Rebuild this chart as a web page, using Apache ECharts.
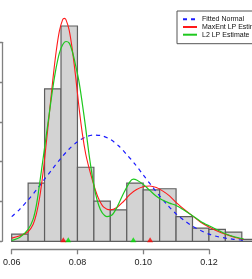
<!DOCTYPE html>
<html><head><meta charset="utf-8">
<script src="https://cdn.jsdelivr.net/npm/echarts@6/dist/echarts.min.js"></script>
<style>html,body{margin:0;padding:0;background:#fff;overflow:hidden}#c{width:252px;height:279px}</style>
</head><body><div id="c"></div>
<script>
// Histogram bins (density scale)
const binEdges = [0.060,0.065,0.070,0.075,0.080,0.085,0.090,0.095,0.100,0.105,0.110,0.115,0.120,0.125,0.130,0.135];
const density  = [1.8,14.6,38.3,54.1,18.6,10.1,7.9,14.6,12.9,13.2,6.2,3.3,3.0,2.3,0.5];

// Fitted normal
const normalX = [0.060,0.0625,0.065,0.0675,0.070,0.0725,0.075,0.0775,0.080,0.0825,0.085,0.0875,0.090,0.0925,0.095,0.0975,0.100,0.1025,0.105,0.1075,0.110,0.1125,0.115,0.1175,0.120,0.1225,0.125,0.1275,0.1305];
const normalY = [6.2,8.1,10.4,12.9,15.6,18.3,20.9,23.2,25.0,26.2,26.7,26.5,25.6,24.0,21.8,19.4,16.7,14.0,11.4,9.0,6.9,5.2,3.8,2.7,1.8,1.2,0.8,0.5,0.3];

// MaxEnt LP estimate
const maxentX = [0.060,0.0625,0.065,0.0665,0.0675,0.0685,0.0695,0.0705,0.0715,0.0725,0.0735,0.0745,0.0755,0.0760,0.0765,0.0775,0.0785,0.0795,0.0805,0.0815,0.0825,0.0835,0.0845,0.0855,0.0865,0.0880,0.0900,0.0920,0.0940,0.0960,0.0980,0.1000,0.1020,0.1040,0.1060,0.1080,0.1100,0.1125,0.1150,0.1175,0.1200,0.1225,0.1250,0.1275,0.1305];
const maxentY = [0.8,1.4,2.4,4.2,6.8,11.0,17.0,24.5,32.5,40.5,47.5,52.8,55.7,56.0,55.7,53.0,47.8,41.0,33.5,27.0,22.0,18.5,15.5,12.8,10.6,8.6,7.9,8.5,10.0,11.8,13.0,13.7,13.9,13.5,12.6,11.4,9.8,8.0,6.4,4.8,3.6,2.6,1.8,1.1,0.5];

// L2 LP estimate
const l2X = [0.060,0.0625,0.065,0.0665,0.0675,0.0685,0.0695,0.0705,0.0715,0.0725,0.0735,0.0745,0.0755,0.0765,0.0775,0.0785,0.0795,0.0805,0.0815,0.0825,0.0835,0.0845,0.0855,0.0865,0.0875,0.0890,0.0905,0.0920,0.0940,0.0960,0.0970,0.0980,0.1000,0.1020,0.1040,0.1060,0.1080,0.1100,0.1125,0.1150,0.1175,0.1200,0.1225,0.1250,0.1275,0.1305];
const l2Y = [0.2,1.0,3.0,5.5,9.0,14.5,20.5,26.5,32.5,38.5,43.5,47.3,49.4,50.2,49.8,47.5,44.0,40.0,34.5,28.5,22.0,16.5,12.0,9.0,7.2,6.2,6.6,8.5,12.0,15.0,15.6,15.4,14.3,12.8,11.3,10.3,9.6,9.0,7.8,6.4,5.0,3.9,2.9,1.9,1.2,0.6];

// Mode markers
const maxentModes = [0.0757, 0.1021];
const l2Modes = [0.0772, 0.0970];

const xTicks = [0.06, 0.08, 0.10, 0.12];
const yTicks = [0, 10, 20, 30, 40, 50];

const FONT = 'Liberation Sans, Arial, Helvetica, sans-serif';
const zip = (xs, ys) => xs.map((x, i) => [x, ys[i]]);
const bars = density.map((d, i) => [binEdges[i], binEdges[i + 1], d]);

const chart = echarts.init(document.getElementById('c'), null, {renderer: 'canvas'});
chart.setOption({
  animation: false,
  backgroundColor: '#ffffff',
  textStyle: {fontFamily: FONT},
  grid: [
    {left: 2, right: 0, top: 42.3, bottom: 37.7, containLabel: false, outerBoundsMode: 'none'},
    {left: 11.7, width: 197.3, top: 248, height: 1.3, containLabel: false, outerBoundsMode: 'none'}
  ],
  xAxis: [
    {type: 'value', gridIndex: 0, min: 0.05705, max: 0.1331, show: false},
    {type: 'value', gridIndex: 1, min: xTicks[0], max: xTicks[xTicks.length - 1], interval: 0.02,
     splitLine: {show: false},
     axisLine: {show: true, lineStyle: {color: '#808080', width: 1.3}},
     axisTick: {show: true, length: 5, lineStyle: {color: '#808080', width: 1.3}},
     axisLabel: {show: true, margin: 9, fontSize: 9, color: '#222', fontFamily: FONT,
       formatter: v => v.toFixed(2)}}
  ],
  yAxis: [
    {type: 'value', gridIndex: 0, min: yTicks[0], max: yTicks[yTicks.length - 1], interval: 10,
     splitLine: {show: false},
     axisLine: {show: true, lineStyle: {color: '#808080', width: 1.3}},
     axisTick: {show: true, length: 7, lineStyle: {color: '#808080', width: 1.3}},
     axisLabel: {show: true, fontSize: 9, color: '#222', rotate: 90, margin: 8}},
    {type: 'value', gridIndex: 1, show: false}
  ],
  legend: {
    orient: 'vertical', left: 177, top: 11,
    data: ['Fitted Normal', 'MaxEnt LP Estimate', 'L2 LP Estimate'],
    itemWidth: 14, itemHeight: 7, itemGap: 0.7,
    padding: [4.8, 20, 5.5, 5],
    itemStyle: {opacity: 0},
    backgroundColor: '#ffffff', borderColor: '#555555', borderWidth: 1, borderRadius: 0,
    textStyle: {fontSize: 7, color: '#111', fontFamily: FONT}
  },
  series: [
    {type: 'custom', name: 'hist', xAxisIndex: 0, yAxisIndex: 0, data: bars, z: 1,
     renderItem: (params, api) => {
       const a = api.coord([api.value(0), api.value(2)]);
       const b = api.coord([api.value(1), 0]);
       return {type: 'rect', shape: {x: a[0], y: a[1], width: b[0] - a[0], height: b[1] - a[1]},
               style: {fill: '#d3d3d3', stroke: '#5e5e5e', lineWidth: 1.2}};
     }},
    {type: 'line', name: 'Fitted Normal', data: zip(normalX, normalY), symbol: 'none', smooth: 0.3, clip: false, z: 3,
     lineStyle: {color: '#1a1aff', width: 1.2, type: [4, 4]}, itemStyle: {color: '#1a1aff'}},
    {type: 'line', name: 'MaxEnt LP Estimate', data: zip(maxentX, maxentY), symbol: 'none', smooth: 0.3, clip: false, z: 4,
     lineStyle: {color: '#ff1a1a', width: 1.1}, itemStyle: {color: '#ff1a1a'}},
    {type: 'line', name: 'L2 LP Estimate', data: zip(l2X, l2Y), symbol: 'none', smooth: 0.3, clip: false, z: 5,
     lineStyle: {color: '#1ec81e', width: 1.2}, itemStyle: {color: '#1ec81e'}},
    {type: 'scatter', name: 'maxentModes', data: maxentModes.map(x => [x, 0]), symbol: 'triangle', symbolSize: [6, 5],
     symbolOffset: [0, -1.5], itemStyle: {color: '#ff0000'}, clip: false, z: 6},
    {type: 'scatter', name: 'l2Modes', data: l2Modes.map(x => [x, 0]), symbol: 'triangle', symbolSize: [6, 5],
     symbolOffset: [0, -1.5], itemStyle: {color: '#00dd00'}, clip: false, z: 7}
  ]
});
</script></body></html>
